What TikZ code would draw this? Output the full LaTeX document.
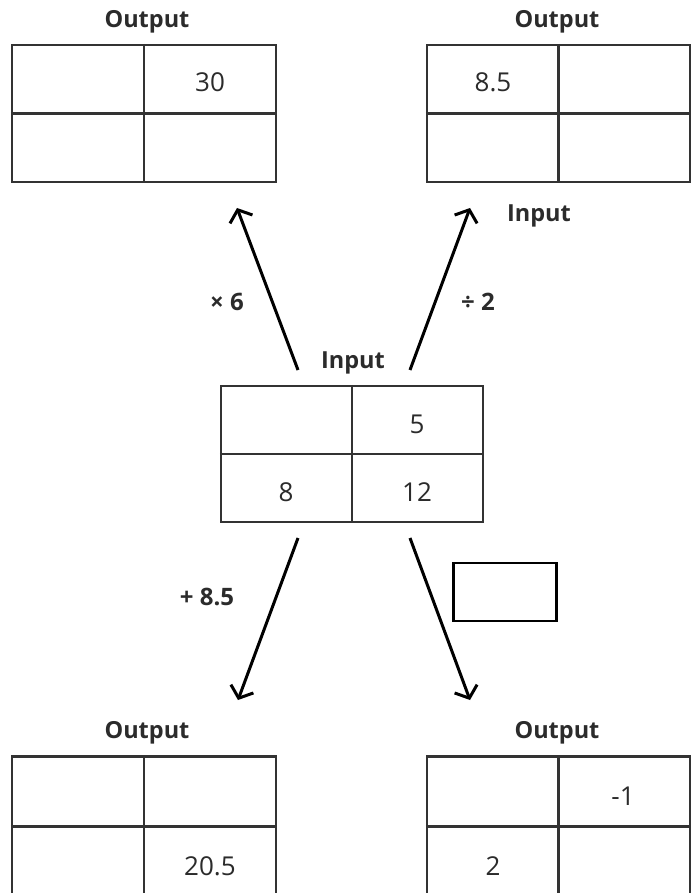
\documentclass[tikz,border=0pt]{standalone}
\usepackage{fontspec}
\setmainfont{Open Sans}
\usetikzlibrary{arrows.meta}
\definecolor{ink}{HTML}{2B2B2B}
\definecolor{grid}{HTML}{333333}
\tikzset{
  tablebox/.style={draw=grid, line width=2.2pt, inner sep=0pt},
  gridline/.style={draw=grid, line width=2.2pt},
  numtext/.style={text=ink, font=\fontsize{26}{26}\selectfont, inner sep=0pt, anchor=center},
  headtext/.style={text=ink, font=\bfseries\fontsize{23.5}{23.5}\selectfont, inner sep=0pt, anchor=center},
  optext/.style={text=ink, font=\bfseries\fontsize{24}{24}\selectfont, inner sep=0pt, anchor=center},
  maparrow/.style={draw=black, line width=3pt, -{Straight Barb[length=10pt,width=24pt,line width=3pt]}},
  blankbox/.style={draw=black, line width=2.5pt, inner sep=0pt}
}
\begin{document}
\begin{tikzpicture}[x=1pt,y=-1pt]
\useasboundingbox (0,0) rectangle (699,893);
\clip (0,0) rectangle (699,893);
% tables
\node[tablebox, minimum width=264pt, minimum height=137pt] (tl) at (144,113.5) {};
\node[tablebox, minimum width=263pt, minimum height=137pt] (tr) at (558.5,113.5) {};
\node[tablebox, minimum width=262pt, minimum height=136pt] (mid) at (352,454) {};
\node[tablebox, minimum width=264pt, minimum height=140pt] (bl) at (144,826.5) {};
\node[tablebox, minimum width=263pt, minimum height=140pt] (br) at (558.5,826.5) {};
\foreach \t in {tl,tr,mid,bl,br}{
  \draw[gridline] (\t.north) -- (\t.south);
  \draw[gridline] (\t.west) -- (\t.east);
}
% headings
\node[headtext] (htl) at (147,22) {Output};
\node[headtext] (htr) at (557,22) {Output};
\node[headtext] (hmid) at (353,363) {Input};
\node[headtext] (hin) at (539,216) {Input};
\node[headtext] (hbl) at (147,733) {Output};
\node[headtext] (hbr) at (557,733) {Output};
% numbers
\node[numtext] (n30) at (210,82) {30};
\node[numtext] (n85) at (493,82) {8.5};
\node[numtext] (n5) at (417,424) {5};
\node[numtext] (n8) at (286,492) {8};
\node[numtext] (n12) at (417,492) {12};
\node[numtext] (n205) at (210,866) {20.5};
\node[numtext] (nm1) at (623,796) {-1};
\node[numtext] (n2) at (493,866) {2};
% operation labels
\node[optext] (op1) at (227,302) {× 6};
\node[optext] (op2) at (478,302) {÷ 2};
\node[optext] (op3) at (207,597) {+ 8.5};
\node[blankbox, minimum width=103pt, minimum height=58pt] (blank) at (505,592) {};
% arrows
\coordinate (a1s) at (298,370);
\coordinate (a1e) at (237,208);
\coordinate (a2s) at (410,370);
\coordinate (a2e) at (470,208);
\coordinate (a3s) at (298,538);
\coordinate (a3e) at (238,700);
\coordinate (a4s) at (410,538);
\coordinate (a4e) at (470,700);
\draw[maparrow] (a1s) -- (a1e);
\draw[maparrow] (a2s) -- (a2e);
\draw[maparrow] (a3s) -- (a3e);
\draw[maparrow] (a4s) -- (a4e);
\end{tikzpicture}
\end{document}
